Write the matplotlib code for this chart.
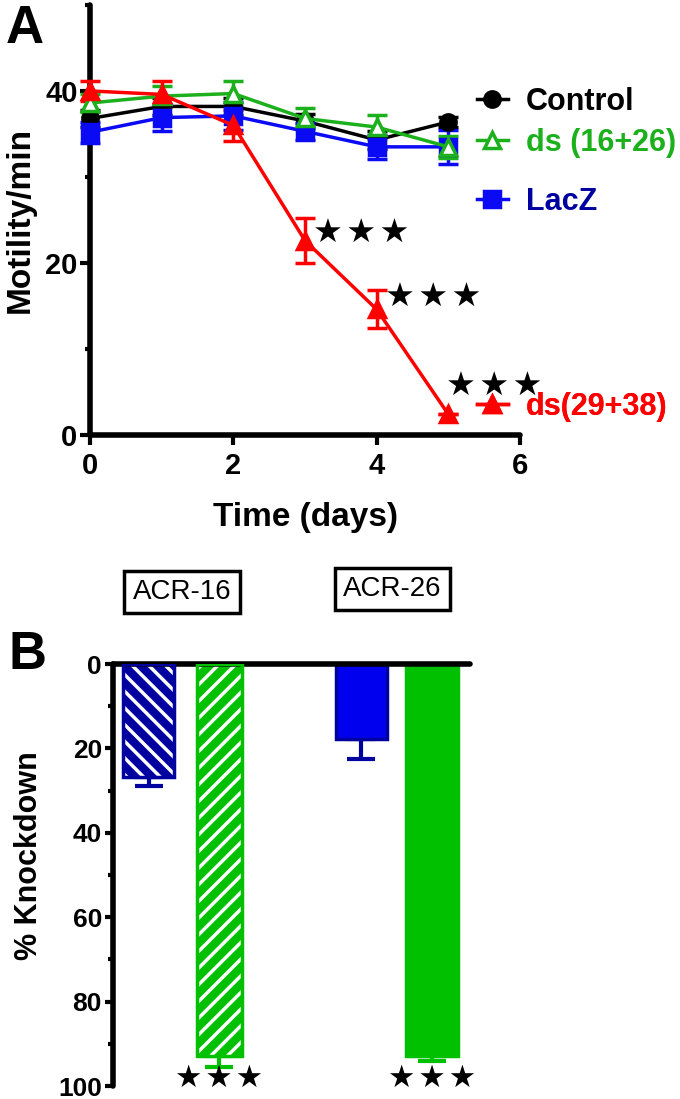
import matplotlib
matplotlib.use("Agg")
import matplotlib.pyplot as plt
from matplotlib.lines import Line2D

# ---- panel A : motility over time ----
days = [0, 1, 2, 3, 4, 5]
control_mean = [36.8, 38.2, 38.2, 36.5, 34.3, 36.4]
control_err = [1.0, 1.0, 1.0, 0.8, 1.0, 0.6]
ds1626_mean = [38.6, 39.4, 39.7, 36.8, 35.8, 33.5]
ds1626_err = [1.0, 1.2, 1.5, 1.2, 1.4, 1.3]
lacz_mean = [35.2, 36.9, 37.1, 35.3, 33.5, 33.5]
lacz_err = [1.2, 1.5, 1.6, 1.0, 1.4, 2.0]
ds2938_mean = [40.0, 39.6, 36.0, 22.6, 14.6, 2.4]
ds2938_err = [1.2, 1.5, 1.8, 2.6, 2.2, 0.0]

# ---- panel B : % knockdown ----
kd_pos = [0, 1, 3, 4]
kd_mean = [26.7, 92.9, 17.7, 92.9]
kd_err = [2.2, 2.6, 4.8, 1.1]
gene_labels = ["ACR-16", "ACR-26"]
gene_pos = [0.47, 3.44]

BOLD = ["Liberation Sans", "DejaVu Sans"]
NARROW = ["Liberation Sans Narrow", "Liberation Sans", "DejaVu Sans"]
STAR = ["DejaVu Sans"]

BLACK, GREEN, BLUE, RED = "#000000", "#1cb01c", "#0a0af5", "#ff0000"
DKBLUE, BBLUE, BGREEN = "#0000a0", "#0000ee", "#00c000"

plt.rcParams["hatch.linewidth"] = 2.5

fig = plt.figure(figsize=(6.8, 10.99), dpi=100)

# ================= A =================
ax = fig.add_axes([0.1324, 0.6042, 0.6324, 0.3913])
series = {
    "Control": (control_mean, control_err, BLACK, "o", BLACK, 11),
    "LacZ": (lacz_mean, lacz_err, BLUE, "s", BLUE, 11),
    "ds (16+26)": (ds1626_mean, ds1626_err, GREEN, "^", "white", 12),
    "ds(29+38)": (ds2938_mean, ds2938_err, RED, "^", RED, 12),
}
for lab, (mean, err, col, mk, mfc, ms) in series.items():
    ax.errorbar(days, mean, yerr=err, color=col, marker=mk, mfc=mfc, mec=col,
                mew=2.5, ms=ms, lw=2.5, elinewidth=2.5, capsize=7.2, capthick=2.5,
                clip_on=False, zorder=4)

ax.set_xlim(0, 6)
ax.set_ylim(0, 50)
ax.set_xticks([0, 2, 4, 6])
ax.set_yticks([0, 20, 40])
ax.set_yticks([10, 30, 50], minor=True)
for s in ["top", "right"]:
    ax.spines[s].set_visible(False)
for s in ["left", "bottom"]:
    ax.spines[s].set_linewidth(4)
    ax.spines[s].set_capstyle("round")
ax.tick_params(which="major", length=7, width=3, pad=2)
ax.tick_params(axis="x", which="major", pad=5)
ax.tick_params(which="minor", length=3.5, width=3)
for t in ax.get_xticklabels() + ax.get_yticklabels():
    t.set_family(BOLD); t.set_fontweight("bold"); t.set_fontsize(21)
ax.set_xlabel("Time (days)", family=BOLD, fontweight="bold", fontsize=24, labelpad=16)
ax.set_ylabel("Motility/min", family=BOLD, fontweight="bold", fontsize=24)
ax.yaxis.set_label_coords(-0.127, 0.5)

# significance stars
STARS3 = "★\u200a★\u200a★"
star_xy = [(3.78, 23.5), (4.79, 16.0), (5.64, 5.6)]
for x, y in star_xy:
    ax.text(x, y, STARS3, family=STAR, fontsize=24, ha="center", va="center",
            clip_on=False)

# legend entries, one legend each so they sit where the original has them
leg_rows = [("Control", 38.7, BLACK), ("ds (16+26)", 33.95, GREEN),
            ("LacZ", 27.1, DKBLUE), ("ds(29+38)", 3.3, RED)]
for lab, y, tc in leg_rows:
    mean, err, col, mk, mfc, ms = series[lab]
    h = Line2D([], [], color=col, marker=mk, mfc=mfc, mec=col, mew=2.5, ms=ms, lw=2.5)
    leg = ax.legend(handles=[h], labels=[lab], loc="center left",
                    bbox_to_anchor=(5.40, y), bbox_transform=ax.transData,
                    frameon=False, borderpad=0, borderaxespad=0,
                    handlelength=1.0, handletextpad=0.6,
                    prop=dict(family=BOLD, weight="bold", size=22))
    leg.get_texts()[0].set_color(tc)
    ax.add_artist(leg)

fig.text(0.037, 0.974, "A", family=BOLD, fontweight="bold", fontsize=38,
         ha="center", va="center")

# ================= B =================
bx = fig.add_axes([0.1662, 0.0118, 0.525, 0.3840])
faces = [DKBLUE, BGREEN, BBLUE, BGREEN]
edges = [DKBLUE, BGREEN, DKBLUE, BGREEN]
hatches = ["\\\\", "//", None, None]
widths = [0.72, 0.64, 0.72, 0.73]
for x, m, e, fc, ec, h, w in zip(kd_pos, kd_mean, kd_err, faces, edges, hatches, widths):
    bx.errorbar(x, m, yerr=[[0], [e]], color=ec, lw=0, elinewidth=3,
                capsize=10, capthick=3, zorder=1)
    if h:
        bx.bar(x, m, width=w, color=fc, edgecolor="white", hatch=h, lw=0, zorder=2)
        bx.bar(x, m, width=w, fill=False, edgecolor=ec, lw=2.5, zorder=3)
    else:
        bx.bar(x, m, width=w, color=fc, edgecolor=ec, lw=2.5, zorder=2)
    if m > 50:
        bx.text(x, m + 5.2, STARS3, family=STAR, fontsize=22, ha="center",
                va="center", clip_on=False)

bx.set_xlim(-0.5, 4.53)
bx.set_ylim(100, 0)
bx.set_yticks([0, 20, 40, 60, 80, 100])
bx.set_yticks([10, 30, 50, 70, 90], minor=True)
bx.set_xticks([])
for s in ["bottom", "right"]:
    bx.spines[s].set_visible(False)
for s in ["left", "top"]:
    bx.spines[s].set_linewidth(4)
    bx.spines[s].set_capstyle("round")
bx.tick_params(which="major", length=6, width=3, pad=2)
bx.tick_params(which="minor", length=3.5, width=3)
for t in bx.get_yticklabels():
    t.set_family(BOLD); t.set_fontweight("bold"); t.set_fontsize(19)
bx.set_ylabel("% Knockdown", family=BOLD, fontweight="bold", fontsize=22)
bx.yaxis.set_label_coords(-0.193, 0.545)

for x, lab, yy in zip(gene_pos, gene_labels, [1.171, 1.178]):
    bx.text(x, yy, lab, transform=bx.get_xaxis_transform(), family=NARROW,
            fontsize=20, ha="center", va="center", clip_on=False,
            bbox=dict(boxstyle="square,pad=0.3", fc="white", ec="black", lw=2.5))

fig.text(0.041, 0.404, "B", family=BOLD, fontweight="bold", fontsize=38,
         ha="center", va="center")

fig.savefig("out.png", dpi=100)
